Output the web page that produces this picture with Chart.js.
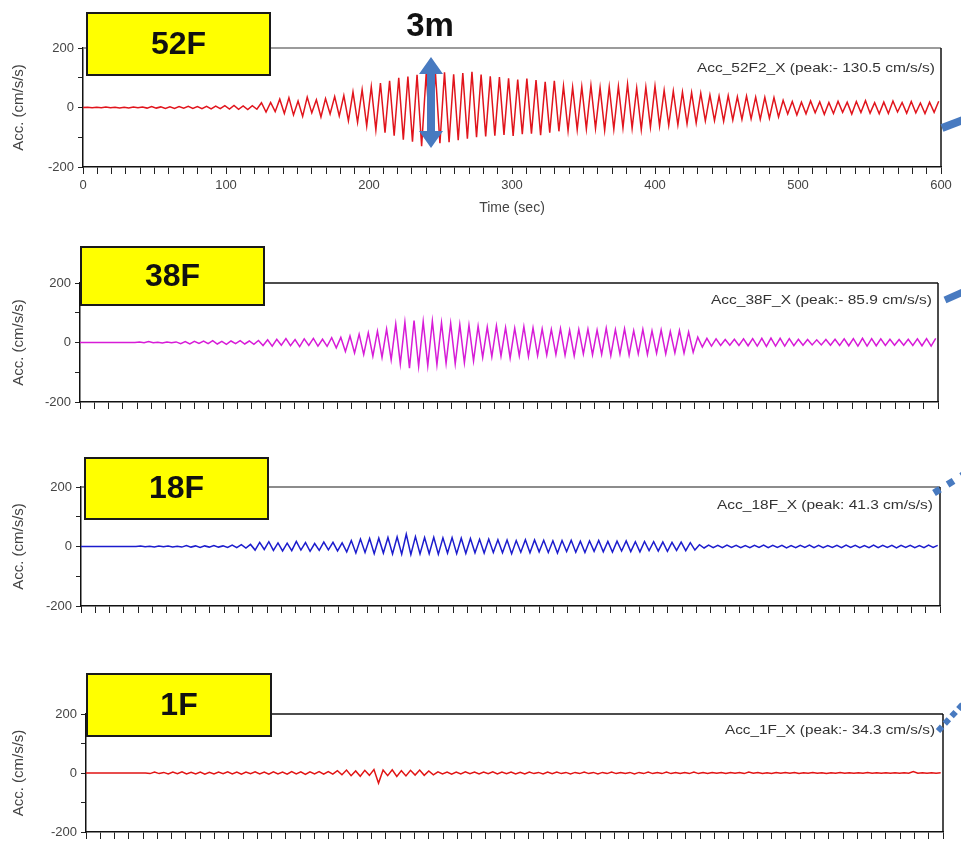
<!DOCTYPE html>
<html><head><meta charset="utf-8">
<script src="https://cdn.jsdelivr.net/npm/chart.js@4.4.1/dist/chart.umd.min.js"></script>
<style>
html,body{margin:0;padding:0;background:#fff;}
#wrap{position:relative;width:961px;height:844px;overflow:hidden;background:#fff;}
canvas{position:absolute;left:0;}
</style></head>
<body><div id="wrap">
<canvas id="c1"></canvas><canvas id="c2"></canvas><canvas id="c3"></canvas><canvas id="c4"></canvas>
</div>
<script>
// ---------- data ----------
const STEP_SEC = 3.2;                       // one half-cycle of the record (peak to peak spacing)
const timeTicks = [0, 100, 200, 300, 400, 500, 600];
const accTicks = [-200, 0, 200];
const floorNames = ['52F', '38F', '18F', '1F'];
const peakNotes = ['Acc_52F2_X (peak:- 130.5 cm/s/s)', 'Acc_38F_X (peak:- 85.9 cm/s/s)',
                   'Acc_18F_X (peak: 41.3 cm/s/s)', 'Acc_1F_X (peak:- 34.3 cm/s/s)'];
const yTitle = 'Acc. (cm/s/s)';
const xTitle = 'Time (sec)';
const topNote = '3m';

const acc52F = [
  0,1,-1,1,-1,2,-1,1,-2,1,
  -2,2,-1,2,-2,3,-2,2,-3,2,
  -3,3,-2,4,-3,3,-4,4,
  -5,5,-4,6,-5,7,-6,5,-7,6,-6,
  16,-15,17,-14,
  28,-20,33,-25,22,-30,35,-18,26,-32,30,-22,37,-28,
  40,-45,52,-50,60,-62,70,-75,82,-85,90,-95,
  100,-108,104,-115,110,-130.5,115,-124,121,-120,118,-117,112,-110,116,-105,120,
  -100,111,-97,105,-95,102,-92,98,-96,94,-90,97,-88,92,-93,86,-85,90,
  -80,72,-78,68,-75,70,-72,74,-70,66,-76,69,-73,71,-68,78,-70,65,-74,68,-66,72,
  -62,58,-60,55,-58,52,-55,50,-52,48,
  -45,42,-44,38,-46,40,-42,36,-40,38,-38,35,-40,34,-36,33,-32,
  24,-22,20,-25,18,-21,22,-18,19,-23,17,-20,21,-16,18,-22,20,-17,23,-19,
  16,-21,18,-20,22,-15,17,-19,20,-18,15,-20,18,-16,21
];
const acc38F = [
  0,0,0,0,0,0,0,0,0,0,0,0,0,
  2,-1,3,-1,1,-2,2,-1,2,
  -4,3,-5,4,-3,5,-4,6,-5,4,-6,5,-4,6,-5,5,-6,7,
  -10,9,-12,11,-9,13,-11,10,-14,12,-10,14,-12,11,-13,
  16,-18,17,
  -30,22,-35,28,-40,33,-46,38,-50,45,-58,
  62,-72,68,-85.9,74,-80,70,-78,72,-75,66,-70,64,-72,60,-68,58,-62,
  55,-50,52,-48,56,-46,50,-52,48,-45,53,-47,49,-44,
  46,-42,44,-40,47,-43,41,-45,44,-38,45,-41,42,-40,48,-44,43,-39,46,-42,
  40,-38,44,-40,39,-36,42,-38,37,-35,40,-36,35,-33,
  18,-15,14,-12,12,-10,10,-9,11,-10,12,-11,13,-12,14,-13,15,-12,14,-12,
  13,-11,11,-9,10,-8,9,-8,10,-9,11,-10,12,-11,13,-12,14,-12,13,-11,
  12,-10,11,-9,10,-9,11,-10,12,-11,13,-12,14
];
const acc18F = [
  0,0,0,0,0,0,0,0,0,0,0,0,0,
  2,-1,1,-2,2,-1,2,-2,1,-2,3,-2,2,-3,2,-2,3,-2,2,-3,
  5,-4,6,-5,7,
  -12,14,-10,16,-13,12,-15,11,-14,17,-12,13,-16,10,-13,15,-11,14,-15,12,
  -18,20,-22,25,-20,27,-24,28,-22,30,-25,32,-26,41.3,-27,33,-25,30,-24,31,
  -26,29,-22,30,-24,28,-23,27,-21,
  24,-22,25,-20,23,-21,22,-24,20,-19,23,-21,22,-18,21,-20,19,-22,20,-17,
  21,-19,18,-20,19,-16,20,-18,17,-19,18,-15,19,-17,16,-18,17,-14,16,-15,
  15,-16,14,-13,15,-14,13,-12,
  6,-5,5,-4,4,-4,5,-3,4,-4,3,-4,4,-3,5,-4,4,-3,4,-5,
  3,-4,4,-3,5,-4,4,-4,3,-3,4,-4,5,-3,4,-4,3,-4,5,-4,
  4,-3,4,-5,4,-3,4,-4,3,-4,5,-3,4
];
const acc1F = [
  0,0,0,0,0,0,0,0,0,0,0,0,0,0,
  -2,3,-2,2,-3,3,-2,4,-3,2,-3,3,-4,2,-3,3,-2,4,-3,3,
  -4,3,-2,4,-3,3,-4,4,-3,3,-4,5,-3,4,-5,4,-3,5,-4,5,-4,
  8,-6,10,-9,7,-11,9,-8,12,-34.3,10,-9,11,-12,8,-10,9,-7,10,-8,7,-6,
  4,-3,3,-4,3,-3,4,-2,3,-3,
  3,-2,4,-3,3,-2,3,-3,2,-3,
  3,-2,2,-3,3,-2,3,-2,2,-3,
  2,-2,3,-2,2,-3,2,-2,3,-2,
  2,-2,2,-3,2,-2,3,-2,2,-2,
  3,-2,2,-2,2,-2,3,-2,2,-2,
  2,-1,2,-2,2,-1,2,-2,3,-1,
  2,-2,1,-2,2,-1,2,-1,2,-2,
  1,-1,2,-1,1,-2,1,-1,2,-1,
  1,-1,1,-1,2,-1,1,-1,1,-1,
  1,-1,1,-1,5,-1,1,-1,1,-1,
  1
];
const seriesValues = [acc52F, acc38F, acc18F, acc1F];
const seriesColors = ['rgb(225,20,28)', 'rgb(215,28,215)', 'rgb(28,28,205)', 'rgb(225,20,20)'];

// ---------- layout (positions / styles) ----------
const FONT = '"Liberation Sans", Arial, Helvetica, sans-serif';
const BLUE = 'rgb(72,122,192)';
const panels = [
  {id:'c1', top:0,   h:225, area:{l:83, r:941, t:48,  b:167}, showX:true,  topColor:'#7a7a7a',
   box:{x:87, y:13,  w:183, h:62}, noteR:935, noteY:68,  noteW:238,
   frag:{x1:942, y1:128, x2:963, y2:120, w:8, dash:[]}},
  {id:'c2', top:225, h:205, area:{l:80, r:938, t:283, b:402}, showX:false, topColor:'#111',
   box:{x:81, y:247, w:183, h:58}, noteR:932, noteY:300, noteW:221,
   frag:{x1:945, y1:300, x2:963, y2:292, w:7, dash:[]}},
  {id:'c3', top:430, h:210, area:{l:81, r:940, t:487, b:606}, showX:false, topColor:'#666',
   box:{x:85, y:458, w:183, h:61}, noteR:933, noteY:505, noteW:216,
   frag:{x1:934, y1:493, x2:963, y2:475, w:7, dash:[7,9]}},
  {id:'c4', top:640, h:204, area:{l:86, r:943, t:714, b:832}, showX:false, topColor:'#111',
   box:{x:87, y:674, w:184, h:62}, noteR:935, noteY:730, noteW:210,
   frag:{x1:938, y1:731, x2:963, y2:704, w:6, dash:[6,4]}}
];

function dblArrow(ctx, x, y1, y2, shaftW, headW, headL, color) {
  ctx.fillStyle = color;
  ctx.beginPath();
  ctx.moveTo(x, y1);
  ctx.lineTo(x + headW/2, y1 + headL);
  ctx.lineTo(x + shaftW/2, y1 + headL);
  ctx.lineTo(x + shaftW/2, y2 - headL);
  ctx.lineTo(x + headW/2, y2 - headL);
  ctx.lineTo(x, y2);
  ctx.lineTo(x - headW/2, y2 - headL);
  ctx.lineTo(x - shaftW/2, y2 - headL);
  ctx.lineTo(x - shaftW/2, y1 + headL);
  ctx.lineTo(x - headW/2, y1 + headL);
  ctx.closePath();
  ctx.fill();
}

const overlay = {
  id: 'overlay',
  afterDraw(chart, args, opts) {
    const p = opts.p, k = opts.k, ctx = chart.ctx, a = chart.chartArea, off = p.top;
    ctx.save();
    ctx.lineWidth = 1.5;
    ctx.strokeStyle = p.topColor;
    ctx.beginPath(); ctx.moveTo(a.left, a.top); ctx.lineTo(a.right, a.top); ctx.stroke();
    ctx.strokeStyle = '#111';
    ctx.beginPath(); ctx.moveTo(a.right, a.top); ctx.lineTo(a.right, a.bottom); ctx.stroke();
    ctx.font = '13px ' + FONT;
    ctx.fillStyle = '#333';
    ctx.textAlign = 'right';
    ctx.textBaseline = 'middle';
    const w = ctx.measureText(peakNotes[k]).width;
    ctx.save();
    ctx.translate(p.noteR, p.noteY - off);
    ctx.scale(p.noteW / w, 1);
    ctx.fillText(peakNotes[k], 0, 0);
    ctx.restore();
    const b = p.box;
    ctx.fillStyle = '#ffff00';
    ctx.fillRect(b.x, b.y - off, b.w, b.h);
    ctx.lineWidth = 2;
    ctx.strokeStyle = '#1a1a1a';
    ctx.strokeRect(b.x, b.y - off, b.w, b.h);
    ctx.fillStyle = '#111';
    ctx.font = 'bold 32px ' + FONT;
    ctx.textAlign = 'center';
    ctx.textBaseline = 'middle';
    ctx.fillText(floorNames[k], b.x + b.w/2, b.y - off + b.h/2 + 1);
    const f = p.frag;
    ctx.strokeStyle = BLUE;
    ctx.lineWidth = f.w;
    ctx.setLineDash(f.dash);
    ctx.beginPath(); ctx.moveTo(f.x1, f.y1 - off); ctx.lineTo(f.x2, f.y2 - off); ctx.stroke();
    ctx.setLineDash([]);
    if (k === 0) {
      ctx.fillStyle = '#111';
      ctx.font = 'bold 33px ' + FONT;
      ctx.textAlign = 'center';
      ctx.textBaseline = 'middle';
      ctx.fillText(topNote, 430, 27);
      dblArrow(ctx, 431, 57, 148, 8, 24, 17, BLUE);
    }
    ctx.restore();
  }
};

panels.forEach((p, k) => {
  const cv = document.getElementById(p.id);
  cv.width = 961; cv.height = p.h;
  cv.style.top = p.top + 'px';
  cv.style.width = '961px'; cv.style.height = p.h + 'px';
  const pts = seriesValues[k].map((v, i) => ({x: i * STEP_SEC, y: v}));
  new Chart(cv, {
    type: 'line',
    data: {datasets: [{data: pts, borderColor: seriesColors[k], borderWidth: 1.5,
                       pointRadius: 0, tension: 0, fill: false}]},
    options: {
      responsive: false, animation: false, events: [],
      layout: {padding: {top: p.area.t - p.top, right: 961 - p.area.r, left: 0, bottom: 0}},
      plugins: {legend: {display: false}, tooltip: {enabled: false}, overlay: {p: p, k: k}},
      scales: {
        x: {
          type: 'linear', min: 0, max: 600,
          afterFit(s) { s.height = p.top + p.h - p.area.b; },
          ticks: {
            stepSize: 10, autoSkip: false, maxRotation: 0, minRotation: 0, padding: 4,
            color: '#444', font: {size: 13, family: FONT},
            callback(v) {
              const r = Math.round(v);
              return (p.showX && Math.abs(v - r) < 1e-6 && timeTicks.includes(r)) ? String(r) : '';
            }
          },
          grid: {drawOnChartArea: false, drawTicks: true, tickLength: 7, color: '#222', lineWidth: 1},
          border: {display: true, color: '#111', width: 1.5},
          title: {display: p.showX, text: xTitle, color: '#444', font: {size: 14, family: FONT},
                  padding: {top: 0, bottom: 8}}
        },
        y: {
          min: -200, max: 200,
          afterFit(s) { s.width = p.area.l; },
          ticks: {
            stepSize: 100, padding: 4, color: '#444', font: {size: 13, family: FONT},
            callback(v) { return accTicks.includes(v) ? String(v) : ''; }
          },
          grid: {drawOnChartArea: false, drawTicks: true, tickLength: 5, color: '#222', lineWidth: 1},
          border: {display: true, color: '#111', width: 1.5},
          title: {display: true, text: yTitle, color: '#444', font: {size: 15, family: FONT},
                  padding: {top: 10, bottom: 0}}
        }
      }
    },
    plugins: [overlay]
  });
});
</script>
</body></html>
